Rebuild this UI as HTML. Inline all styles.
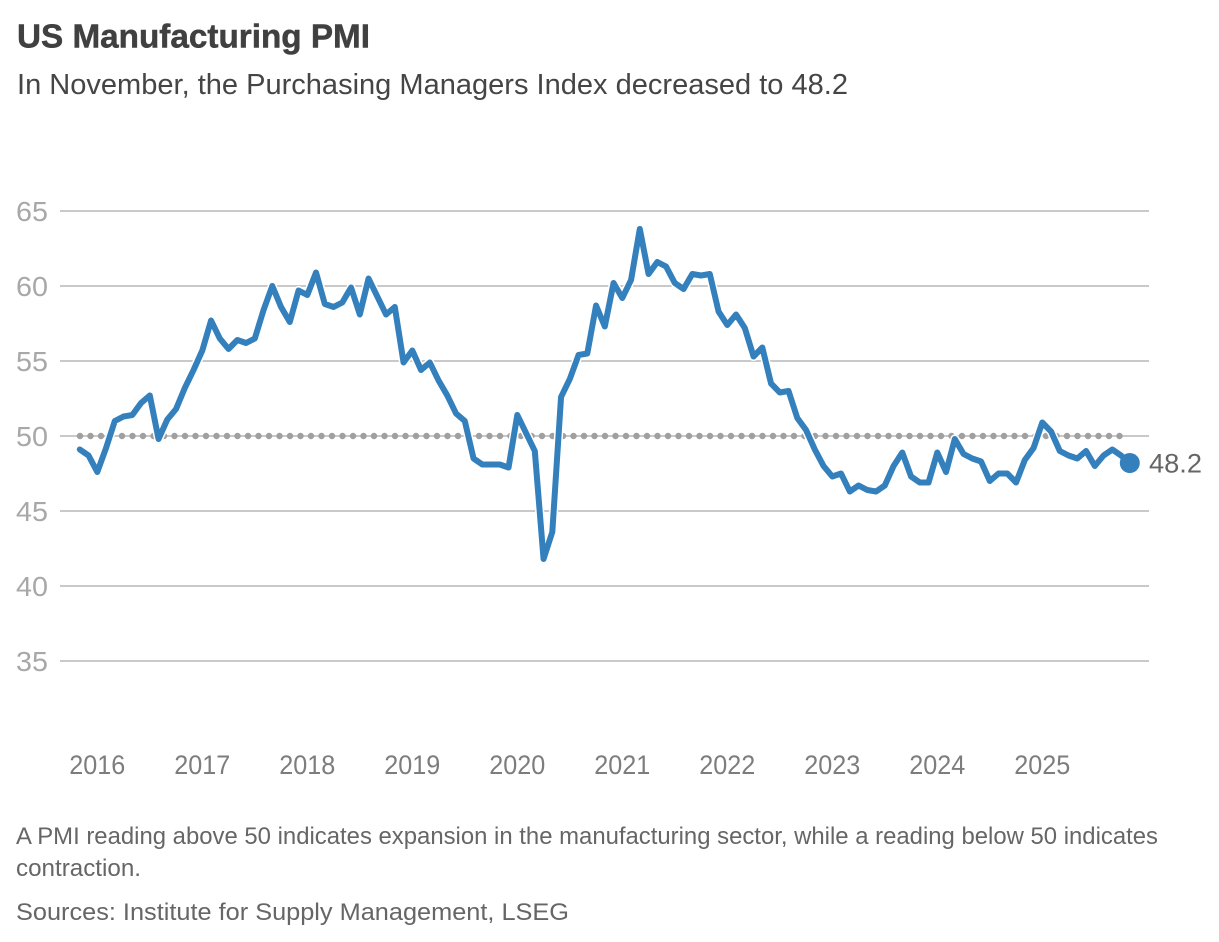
<!DOCTYPE html>
<html lang="en">
<head>
<meta charset="utf-8">
<title>US Manufacturing PMI</title>
<style>
html,body{margin:0;padding:0;background:#fff;}
#chart{display:block;width:1219px;height:942px;font-family:"Liberation Sans",sans-serif;}
</style>
</head>
<body>
<svg id="chart" xmlns="http://www.w3.org/2000/svg" width="1219" height="942" viewBox="0 0 1219 942">
  <text x="17" y="47.5" font-size="33.5" font-weight="700" fill="#404040" stroke="#404040" stroke-width="0.5" textLength="353" lengthAdjust="spacingAndGlyphs">US Manufacturing PMI</text>
  <text x="17" y="94" font-size="29" fill="#454545" textLength="831" lengthAdjust="spacingAndGlyphs">In November, the Purchasing Managers Index decreased to 48.2</text>
  <g id="grid"></g>
  <g id="yAxis"></g>
  <g id="xAxis"></g>
  <g id="marks"></g>
  <text x="16" y="844" font-size="24" fill="#666666" textLength="1142" lengthAdjust="spacingAndGlyphs">A PMI reading above 50 indicates expansion in the manufacturing sector, while a reading below 50 indicates</text>
  <text x="16" y="876" font-size="24" fill="#666666" textLength="125" lengthAdjust="spacingAndGlyphs">contraction.</text>
  <text x="16" y="920" font-size="24" fill="#666666" textLength="553" lengthAdjust="spacingAndGlyphs">Sources: Institute for Supply Management, LSEG</text>
</svg>
<script>
// Monthly readings, November 2015 to November 2025
const pmiValues = [
  49.1,48.7,47.6,49.2,51.0,51.3,51.4,52.2,52.7,49.8,51.1,51.8,
  53.2,54.4,55.7,57.7,56.5,55.8,56.4,56.2,56.5,58.4,60.0,58.6,
  57.6,59.7,59.4,60.9,58.8,58.6,58.9,59.9,58.1,60.5,59.3,58.1,
  58.6,54.9,55.7,54.4,54.9,53.7,52.7,51.5,51.0,48.5,48.1,48.1,
  48.1,47.9,51.4,50.2,49.0,41.8,43.6,52.6,53.8,55.4,55.5,58.7,
  57.3,60.2,59.2,60.4,63.8,60.8,61.6,61.3,60.2,59.8,60.8,60.7,
  60.8,58.3,57.4,58.1,57.2,55.3,55.9,53.5,52.9,53.0,51.2,50.4,
  49.1,48.0,47.3,47.5,46.3,46.7,46.4,46.3,46.7,48.0,48.9,47.3,
  46.9,46.9,48.9,47.6,49.8,48.8,48.5,48.3,47.0,47.5,47.5,46.9,
  48.4,49.2,50.9,50.3,49.0,48.7,48.5,49.0,48.0,48.7,49.1,48.7,
  48.2
];
const yTickValues = [35,40,45,50,55,60,65];
const xTickYears = [2016,2017,2018,2019,2020,2021,2022,2023,2024,2025];
const firstYear = 2016;
const firstYearOffset = 2; // Jan 2016 is the third monthly reading
const referenceLevel = 50;

const SVG_NS = 'http://www.w3.org/2000/svg';
const xScale = i => 79.8 + 8.75 * i;
const yScale = v => 436 - (v - 50) * 15;
const yearIndex = y => (y - firstYear) * 12 + firstYearOffset;

function make(tag, attrs, parent, text) {
  const el = document.createElementNS(SVG_NS, tag);
  for (const k in attrs) el.setAttribute(k, attrs[k]);
  if (text !== undefined) el.textContent = text;
  parent.appendChild(el);
  return el;
}

const grid = document.getElementById('grid');
const yAxis = document.getElementById('yAxis');
const xAxis = document.getElementById('xAxis');
const marks = document.getElementById('marks');

yTickValues.forEach(v => {
  const line = make('line', {x1: 60, x2: 1149, y1: yScale(v), y2: yScale(v), stroke: '#c9c9c9', 'stroke-width': 2}, grid);
  
  
  const label = make('text', {x: 16, y: yScale(v) + 10, 'font-size': 28, fill: '#a8a8a8', textLength: 32, lengthAdjust: 'spacingAndGlyphs'}, yAxis, String(v));
  
  
});

xTickYears.forEach(y => {
  const label = make('text', {x: xScale(yearIndex(y)), y: 774, 'font-size': 27, fill: '#7d7d7d', 'text-anchor': 'middle', textLength: 56, lengthAdjust: 'spacingAndGlyphs'}, xAxis, String(y));
  
  
});

const refLine = make('line', {x1: 80, x2: 1121, y1: yScale(referenceLevel), y2: yScale(referenceLevel), stroke: '#a0a0a0', 'stroke-width': 6.5, 'stroke-linecap': 'round', 'stroke-dasharray': '0 10.5'}, marks);



const pathData = pmiValues.map((v, i) => (i ? 'L' : 'M') + xScale(i).toFixed(2) + ' ' + yScale(v).toFixed(2)).join(' ');

const halo = make('path', {d: pathData, fill: 'none', stroke: '#ffffff', 'stroke-width': 9, 'stroke-linejoin': 'round', 'stroke-linecap': 'round'}, marks);



const seriesLine = make('path', {d: pathData, fill: 'none', stroke: '#3480bd', 'stroke-width': 6, 'stroke-linejoin': 'round', 'stroke-linecap': 'round'}, marks);



const lastIndex = pmiValues.length - 1;
const lastValue = pmiValues[lastIndex];
const endDot = make('circle', {cx: xScale(lastIndex), cy: yScale(lastValue), r: 10, fill: '#3480bd'}, marks);



const endLabel = make('text', {x: 1149, y: yScale(lastValue) + 9.5, 'font-size': 27, fill: '#666666', textLength: 53, lengthAdjust: 'spacingAndGlyphs'}, marks, lastValue.toFixed(1));


</script>
</body>
</html>
